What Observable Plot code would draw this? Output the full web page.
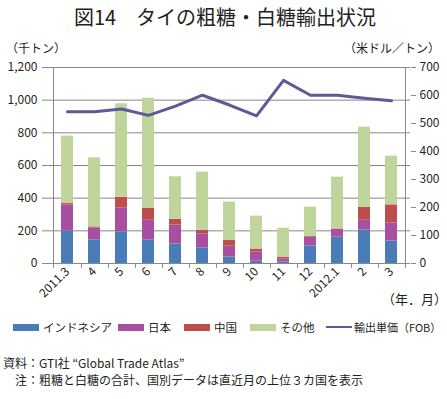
<!DOCTYPE html>
<html><head><meta charset="utf-8">
<script src="https://cdn.jsdelivr.net/npm/d3@7"></script>
<script src="https://cdn.jsdelivr.net/npm/@observablehq/plot@0.6"></script>
<style>
body{margin:0;background:#fff;font-family:"Noto Sans CJK JP","Noto Sans",sans-serif;color:#231f20;}
#wrap{position:relative;width:447px;height:399px;overflow:hidden;}
.abs{position:absolute;white-space:nowrap;}
#title{top:4px;left:0;width:450px;text-align:center;font-size:20px;line-height:26px;}
.u{font-size:12px;line-height:14px;}
#legend{top:319px;left:0;width:447px;height:16px;font-size:11.5px;line-height:16px;}
.it{position:absolute;top:0;display:flex;align-items:center;height:16px;}
.sw{display:inline-block;width:26px;height:7px;margin-right:4px;}
.ln{display:inline-block;width:26px;height:2px;margin-right:2px;}
.src{font-size:12px;line-height:16px;}
</style></head>
<body><div id="wrap">
<div id="title" class="abs">図14　タイの粗糖・白糖輸出状況</div>
<div class="abs u" style="top:41px;left:6px;">（千トン）</div>
<div class="abs u" style="top:41px;right:7px;">（米ドル／トン）</div>
<div class="abs u" style="top:292px;right:0px;font-size:13px;">（年．月）</div>
<div id="chart" class="abs" style="top:30px;left:0;"></div>
<div id="legend" class="abs"></div>
<div class="abs src" style="top:355px;left:3px;">資料：GTI社 “Global Trade Atlas”</div>
<div class="abs src" style="top:372px;left:3px;">　注：粗糖と白糖の合計、国別データは直近月の上位３カ国を表示</div>
</div>
<script>
const months = ["2011.3","4","5","6","7","8","9","10","11","12","2012.1","2","3"];
const indonesia = [198,145,194,145,120,96,39,14,10,108,161,206,137];
const japan = [161,73,147,120,115,86,67,57,17,53,49,59,110];
const china = [8,6,65,74,36,22,37,17,12,6,2,80,112];
const others = [413,423,572,673,260,355,233,202,177,178,317,490,298];
const price = [542,542,552,529,562,601,566,527,654,601,601,590,581];
const seriesNames = ["インドネシア","日本","中国","その他"];
const lineName = "輸出単価（FOB）";
const colors = ["#4a7db8","#a8509f","#bd4e4b","#bfd59c"];
const lineColor = "#5a5b98";
const leftTicks = [0,200,400,600,800,1000,1200];
const rightTicks = [0,100,200,300,400,500,600,700];
const k = 1200/700;

const seriesVals = [indonesia, japan, china, others];
const rows = [];
months.forEach((m,i)=>seriesNames.forEach((s,j)=>rows.push({month:m, series:s, value:seriesVals[j][i]})));
const priceRows = months.map((m,i)=>({month:m, price:price[i]}));
const step = (447-47-37)/months.length;

const chart = Plot.plot({
  width:447, height:282,
  marginTop:37, marginBottom:49, marginLeft:47, marginRight:37,
  style:{fontFamily:"'Noto Sans CJK JP','Noto Sans',sans-serif", fontSize:"12px", color:"#231f20", background:"transparent"},
  x:{type:"band", domain:months, paddingInner:0.57, paddingOuter:0.285, label:null, axis:null},
  y:{domain:[0,1200], label:null, axis:null},
  color:{domain:seriesNames, range:colors},
  marks:[
    Plot.gridY(leftTicks.slice(1), {stroke:"#888", strokeOpacity:1, strokeWidth:1}),
    Plot.barY(rows, {x:"month", y:"value", fill:"series", order:seriesNames}),
    Plot.line(priceRows, {x:"month", y:d=>d.price*k, stroke:lineColor, strokeWidth:3}),
    Plot.ruleY([0], {stroke:"#888"}),
    Plot.axisY({anchor:"left", ticks:leftTicks, tickFormat:d3.format(","), tickSize:5, tickPadding:5, stroke:"#888", label:null, fontSize:12}),
    Plot.ruleX([months[0]], {dx:-step/2, stroke:"#888"}),
    Plot.ruleX([months[months.length-1]], {dx:step/2, stroke:"#888"}),
    Plot.axisY({anchor:"right", ticks:rightTicks.map(v=>v*k), tickFormat:d=>String(Math.round(d/k)), tickSize:5, tickPadding:4, stroke:"#888", label:null, fontSize:12}),
    Plot.axisX({ticks:months, tickSize:5, dx:step/2, tickFormat:()=>"", stroke:"#888", label:null}),
    Plot.axisX({ticks:[months[0]], tickSize:5, dx:-step/2, tickFormat:()=>"", stroke:"#888", label:null}),
    Plot.axisX({ticks:months, tickSize:0, tickPadding:6, tickRotate:-45, label:null, fontSize:12})
  ]
});
document.getElementById("chart").appendChild(chart);

const lg = document.getElementById("legend");
const legendX = [13,118,184,250];
seriesNames.forEach((s,i)=>{
  const it = document.createElement("span"); it.className="it"; it.style.left = legendX[i]+"px";
  it.innerHTML = `<span class="sw" style="background:${colors[i]}"></span>${s}`;
  lg.appendChild(it);
});
const li = document.createElement("span"); li.className="it"; li.style.left = "326px"; li.style.fontSize = "11px";
li.innerHTML = `<span class="ln" style="background:${lineColor}"></span>${lineName}`;
lg.appendChild(li);
</script>
</body></html>
